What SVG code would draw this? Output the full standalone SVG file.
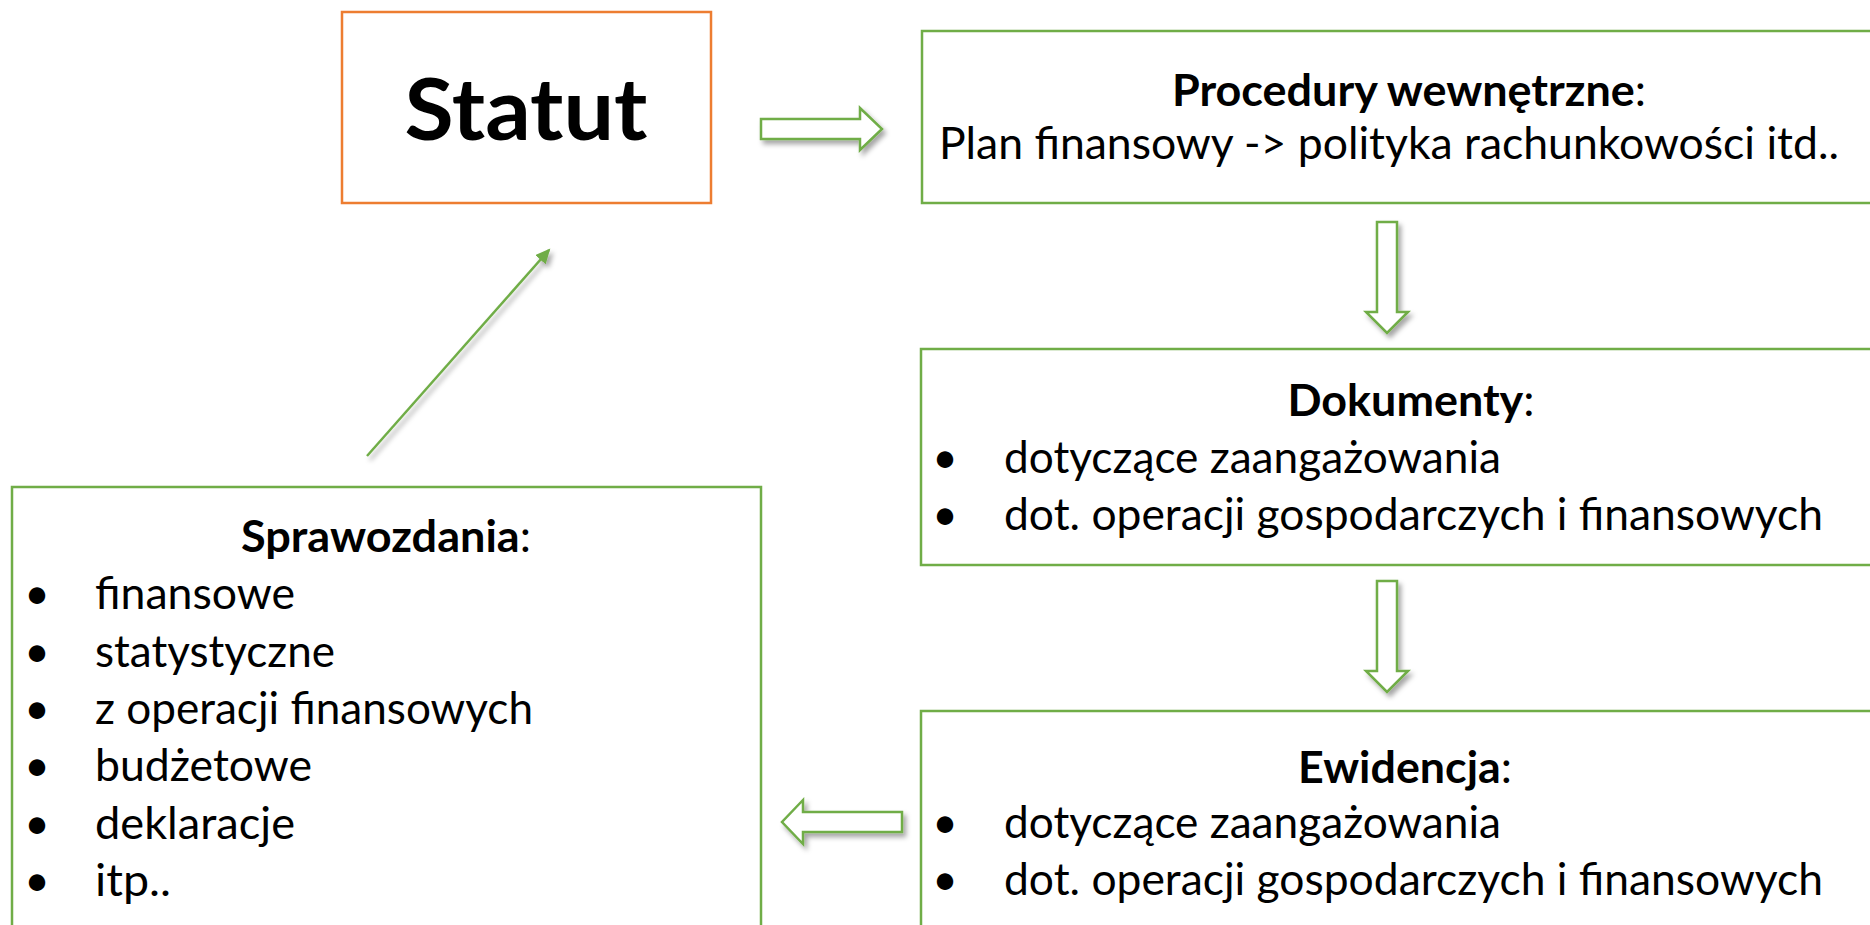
<svg xmlns="http://www.w3.org/2000/svg" width="1870" height="925" viewBox="0 0 1870 925">
<style>
.box{fill:none;stroke:#70AD47;stroke-width:2.5}
.statut{fill:#fff;stroke:#ED7D31;stroke-width:2.5}
.blk{fill:#fff;stroke:#70AD47;stroke-width:2.5;filter:url(#sh)}
.ln{fill:none;stroke:#70AD47;stroke-width:2.5;filter:url(#sh)}
text{font-family:Lato,"Open Sans","Liberation Sans",sans-serif;font-size:44px;fill:#000}
.b{font-weight:700}
.c{text-anchor:middle}
</style>
<defs>
<filter id="sh" x="-30%" y="-30%" width="160%" height="160%">
<feDropShadow dx="3" dy="4" stdDeviation="2.5" flood-color="#000" flood-opacity="0.35"/>
</filter>
<marker id="ah" markerUnits="userSpaceOnUse" markerWidth="16" markerHeight="14" refX="13" refY="7" orient="auto">
<path d="M0,0 L15,7 L0,14 Z" fill="#70AD47"/>
</marker>
</defs>
<rect width="1870" height="925" fill="#fff"/>

<g id="statut">
<rect class="statut" x="342" y="12" width="369" height="191"/>
<text class="b c" x="526" y="140" style="font-size:86px" textLength="243" lengthAdjust="spacingAndGlyphs">Statut</text>
</g>

<g id="procedury">
<rect class="box" x="922" y="31" width="960" height="172"/>
<text class="c" x="1409" y="106" textLength="474" lengthAdjust="spacingAndGlyphs"><tspan class="b">Procedury wewnętrzne</tspan>:</text>
<text class="c" x="1389" y="159" textLength="900" lengthAdjust="spacingAndGlyphs">Plan finansowy -&gt; polityka rachunkowości itd..</text>
</g>

<g id="dokumenty">
<rect class="box" x="921" y="349" width="960" height="216"/>
<text class="c" x="1411" y="416" textLength="247" lengthAdjust="spacingAndGlyphs"><tspan class="b">Dokumenty</tspan>:</text>
<text class="c" x="945" y="473">•</text>
<text x="1004" y="473" textLength="497" lengthAdjust="spacingAndGlyphs">dotyczące zaangażowania</text>
<text class="c" x="945" y="530">•</text>
<text x="1004" y="530" textLength="819" lengthAdjust="spacingAndGlyphs">dot. operacji gospodarczych i finansowych</text>
</g>

<g id="ewidencja">
<rect class="box" x="921" y="711" width="960" height="230"/>
<text class="c" x="1405" y="783" textLength="214" lengthAdjust="spacingAndGlyphs"><tspan class="b">Ewidencja</tspan>:</text>
<text class="c" x="945" y="838">•</text>
<text x="1004" y="838" textLength="497" lengthAdjust="spacingAndGlyphs">dotyczące zaangażowania</text>
<text class="c" x="945" y="895">•</text>
<text x="1004" y="895" textLength="819" lengthAdjust="spacingAndGlyphs">dot. operacji gospodarczych i finansowych</text>
</g>

<g id="sprawozdania">
<rect class="box" x="12" y="487" width="749" height="460"/>
<text class="c" x="386" y="552" textLength="290" lengthAdjust="spacingAndGlyphs"><tspan class="b">Sprawozdania</tspan>:</text>
<text class="c" x="37" y="609">•</text>
<text x="95" y="609" textLength="200" lengthAdjust="spacingAndGlyphs">finansowe</text>
<text class="c" x="37" y="667">•</text>
<text x="95" y="667" textLength="240" lengthAdjust="spacingAndGlyphs">statystyczne</text>
<text class="c" x="37" y="724">•</text>
<text x="95" y="724" textLength="438" lengthAdjust="spacingAndGlyphs">z operacji finansowych</text>
<text class="c" x="37" y="781">•</text>
<text x="95" y="781" textLength="217" lengthAdjust="spacingAndGlyphs">budżetowe</text>
<text class="c" x="37" y="839">•</text>
<text x="95" y="839" textLength="200" lengthAdjust="spacingAndGlyphs">deklaracje</text>
<text class="c" x="37" y="896">•</text>
<text x="95" y="896" textLength="76" lengthAdjust="spacingAndGlyphs">itp..</text>
</g>

<g id="connectors">
<path class="blk" d="M761,119 H860 V108 L882,129 L860,150 V139 H761 Z"/>
<path class="blk" d="M1377,222 V312 H1366 L1387,333 L1408,312 H1397 V222 Z"/>
<path class="blk" d="M1377,581 V671 H1366 L1387,692 L1408,671 H1397 V581 Z"/>
<path class="blk" d="M902,812 H803 V800 L782,822 L803,844 V832 H902 Z"/>
<path class="ln" d="M367,456 L549,250" marker-end="url(#ah)"/>
</g>
</svg>
